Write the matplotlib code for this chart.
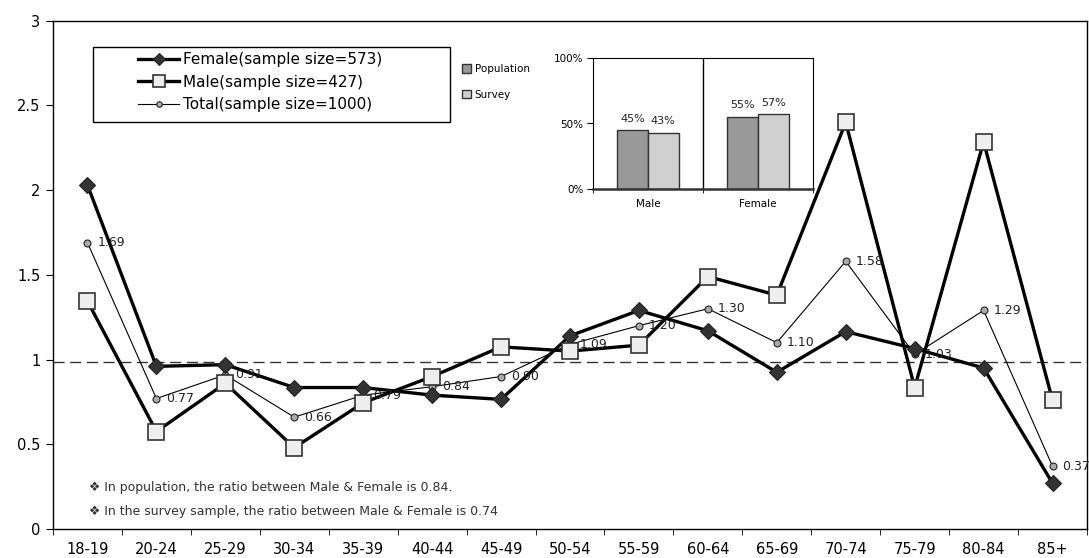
import numpy as np
import matplotlib
matplotlib.use('Agg')
import matplotlib.pyplot as plt
from matplotlib.patches import Rectangle
from matplotlib.patches import Patch

plt.rcParams['font.family'] = ['DejaVu Sans']

# datos
grupos_edad = ['18-19', '20-24', '25-29', '30-34', '35-39', '40-44', '45-49', '50-54',
               '55-59', '60-64', '65-69', '70-74', '75-79', '80-84', '85+']
female = [2.03, 0.96, 0.97, 0.835, 0.835, 0.79, 0.765, 1.14, 1.29, 1.17, 0.925, 1.165, 1.065, 0.95, 0.27]
male = [1.345, 0.575, 0.86, 0.48, 0.745, 0.90, 1.075, 1.05, 1.085, 1.49, 1.38, 2.40, 0.835, 2.285, 0.76]
total = [1.69, 0.77, 0.91, 0.66, 0.79, 0.84, 0.90, 1.09, 1.20, 1.30, 1.10, 1.58, 1.03, 1.29, 0.37]
linea_ref = 0.985

leyenda = ['Female(sample size=573)', 'Male(sample size=427)', 'Total(sample size=1000)']
notas = ['\u2756 In population, the ratio between Male & Female is 0.84.',
         '\u2756 In the survey sample, the ratio between Male & Female is 0.74']

sexo = ['Male', 'Female']
poblacion = [45, 55]
encuesta = [43, 57]

W, H = 1089, 558
fig = plt.figure(figsize=(W / 100, H / 100), dpi=100)

# grafico principal
ax = fig.add_axes([53 / W, 1 - 529 / H, (1087 - 53) / W, (529 - 20.7) / H])
x = np.arange(len(grupos_edad))

ax.axhline(linea_ref, color='#333333', lw=1, dashes=(8, 4), zorder=1)
l_tot, = ax.plot(x, total, '-o', color='black', lw=0.8, ms=5, mfc='#aaaaaa', mec='#222222', mew=0.8, zorder=2)
l_fem, = ax.plot(x, female, '-D', color='black', lw=2.4, ms=8, mfc='#333333', mec='#222222', mew=0.8, zorder=3)
l_mal, = ax.plot(x, male, '-s', color='black', lw=2.4, ms=11, mfc='#eeeeee', mec='#333333', mew=1.2, zorder=4)

for xi, v in zip(x, total):
    ax.annotate(f'{v:.2f}', (xi, v), xytext=(7, 0), textcoords='offset points',
                ha='left', va='center', fontsize=9, color='#222222', zorder=5,
                annotation_clip=False)

ax.set_xlim(-0.5, len(grupos_edad) - 0.5)
ax.set_ylim(0, 3)
ax.set_yticks([0, 0.5, 1, 1.5, 2, 2.5, 3])
ax.set_yticklabels(['0', '0.5', '1', '1.5', '2', '2.5', '3'])
ax.set_xticks(x)
ax.set_xticklabels(grupos_edad)
ax.tick_params(axis='x', length=0, labelsize=10.5, pad=9)
ax.set_xticks(np.arange(len(grupos_edad) + 1) - 0.5, minor=True)
ax.tick_params(axis='x', which='minor', length=4, direction='out')
ax.tick_params(axis='y', length=5, direction='out', labelsize=10.5, pad=4)
for s in ax.spines.values():
    s.set_linewidth(1)
ax.grid(False)

for i, n in enumerate(notas):
    fig.text(89 / W, 1 - (487 + 24 * i) / H, n, fontsize=9, va='center', ha='left', color='#333333')

# leyenda principal
fig.add_artist(Rectangle((93 / W, 1 - 122 / H), (450 - 93) / W, 75 / H, transform=fig.transFigure,
                         fill=False, edgecolor='black', lw=1))
fig.legend([l_fem, l_mal, l_tot], leyenda, loc='upper left', bbox_to_anchor=(138 / W, 1 - 52 / H),
           frameon=False, fontsize=11, handlelength=2.7, handletextpad=0.25, labelspacing=0.5,
           markerscale=0.8, borderpad=0, borderaxespad=0)

# grafico insertado
axi = fig.add_axes([593 / W, 1 - 189 / H, (812.7 - 593) / W, (189 - 58) / H])
xi = np.arange(len(sexo))
b1 = axi.bar(xi - 0.14, poblacion, 0.28, color='#999999', edgecolor='#333333', lw=1)
b2 = axi.bar(xi + 0.14, encuesta, 0.28, color='#d0d0d0', edgecolor='#333333', lw=1)
for bars, vals in [(b1, poblacion), (b2, encuesta)]:
    for r, v in zip(bars, vals):
        axi.text(r.get_x() + r.get_width() / 2, v + 5, f'{v}%', ha='center', va='bottom', fontsize=8, color='#222222')
axi.axvline(0.5, color='black', lw=1)
axi.set_xlim(-0.5, 1.5)
axi.set_ylim(0, 100)
axi.set_yticks([0, 50, 100])
axi.set_yticklabels(['0%', '50%', '100%'])
axi.set_xticks(xi)
axi.set_xticklabels(sexo)
axi.tick_params(axis='x', length=0, labelsize=7.5, pad=7)
axi.set_xticks([-0.5, 0.5, 1.5], minor=True)
axi.tick_params(axis='x', which='minor', length=3)
axi.tick_params(axis='y', length=4, labelsize=7.5, pad=3)
axi.spines['bottom'].set_linewidth(1.8)
axi.spines['bottom'].set_color('#333333')

fig.legend([Patch(facecolor='#999999', edgecolor='#333333'), Patch(facecolor='#d0d0d0', edgecolor='#333333')],
           ['Population', 'Survey'], loc='upper left', bbox_to_anchor=(462 / W, 1 - 64 / H),
           frameon=False, fontsize=7.5, handlelength=0.9, handleheight=0.9, handletextpad=0.3,
           labelspacing=1.5, borderpad=0, borderaxespad=0)

fig.savefig('out.png', dpi=100)
